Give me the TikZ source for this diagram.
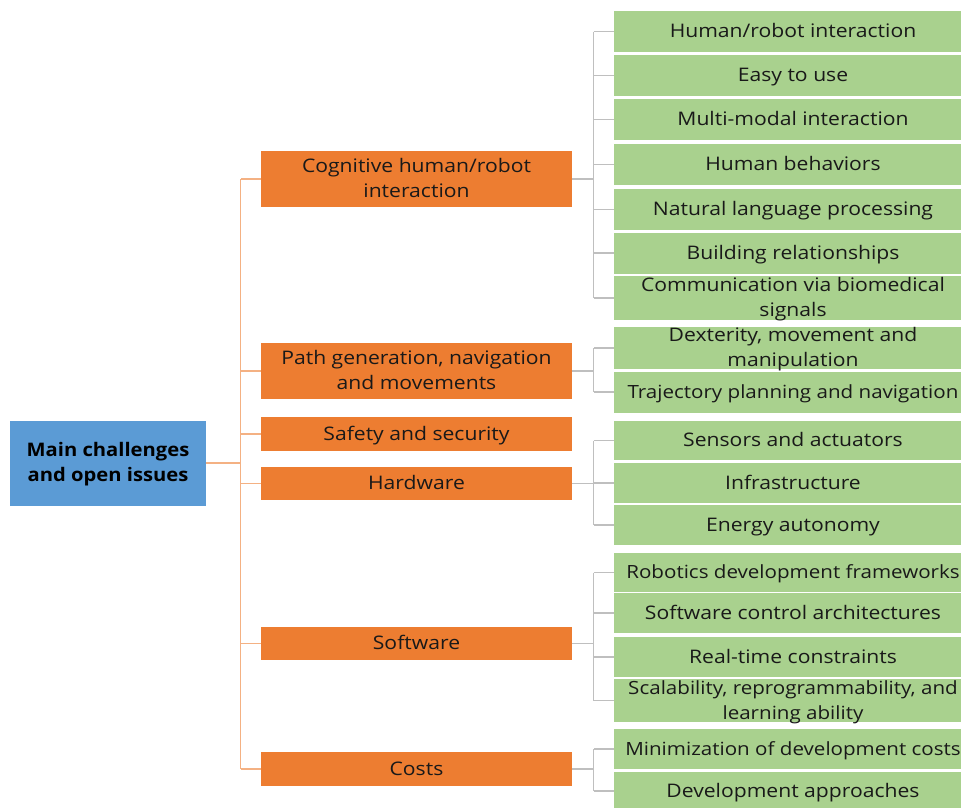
\documentclass[tikz,border=0pt]{standalone}
\usepackage{fontspec}
\setmainfont{Open Sans}[FakeStretch=1.13]
\newfontfamily\rootfont{Open Sans}[FakeStretch=1.08]
\usetikzlibrary{positioning}

\definecolor{rootblue}{HTML}{5B9BD5}
\definecolor{areaorange}{HTML}{ED7D31}
\definecolor{linkorange}{HTML}{F4B183}
\definecolor{issuegreen}{HTML}{A9D18E}
\definecolor{linkgray}{HTML}{BFBFBF}

\begin{document}
\begin{tikzpicture}[x=1pt, y=-1pt,
		font=\fontsize{18.7}{25}\selectfont,
		rootbox/.style={fill=rootblue, text=black, font=\rootfont\fontsize{18.7}{25}\selectfont\bfseries, align=center, inner sep=0pt, text height=39pt, text depth=1.5pt, minimum width=196pt, minimum height=85pt},
		areabox/.style={fill=areaorange, text=black!90, align=center, inner sep=0pt, text height=14pt, text depth=1.5pt, minimum width=311pt},
		issuebox/.style={fill=issuegreen, text=black!90, align=center, inner sep=0pt, text height=14pt, text depth=1.5pt, minimum width=358pt, minimum height=41pt},
		twoline/.style={text height=39pt},
		longtext/.style={font=\fontsize{18.2}{25}\selectfont},
		olink/.style={draw=linkorange, line width=1.5pt},
		glink/.style={draw=linkgray, line width=1.5pt}]
		\useasboundingbox (0,0) rectangle (961,807);
		
		\node[rootbox] (root) at (108,463) {Main challenges\\and open issues};
		
		% challenge areas
		\node[areabox, twoline, minimum height=56pt] (cog) at (416.5,179) {Cognitive human/robot\\interaction};
		\node[areabox, twoline, minimum height=56pt] (nav) at (416.5,371) {Path generation, navigation\\and movements};
		\node[areabox, minimum height=34pt] (safe) at (416.5,434) {Safety and security};
		\node[areabox, minimum height=33pt] (hw) at (416.5,483.5) {Hardware};
		\node[areabox, minimum height=33pt] (sw) at (416.5,643.5) {Software};
		\node[areabox, minimum height=34pt] (cost) at (416.5,769) {Costs};
		
		% open issues
		\node[issuebox] (hri) at (793,31.5) {Human/robot interaction};
		\node[issuebox] (easy) at (793,75.5) {Easy to use};
		\node[issuebox] (mmi) at (793,119.5) {Multi-modal interaction};
		\node[issuebox] (behav) at (793,164.5) {Human behaviors};
		\node[issuebox] (nlp) at (793,209.5) {Natural language processing};
		\node[issuebox] (relat) at (793,253) {Building relationships};
		\node[issuebox, twoline, minimum height=44pt] (bio) at (793,298) {Communication via biomedical\\signals};
		\node[issuebox, twoline, minimum height=42pt] (dext) at (793,348) {Dexterity, movement and\\manipulation};
		\node[issuebox, longtext] (traj) at (793,392) {Trajectory planning and navigation};
		\node[issuebox, minimum height=39pt] (sens) at (793,440.5) {Sensors and actuators};
		\node[issuebox, minimum height=40pt] (infra) at (793,483) {Infrastructure};
		\node[issuebox, minimum height=40pt] (energy) at (793,525) {Energy autonomy};
		\node[issuebox, longtext, minimum height=39pt] (frame) at (793,572.5) {Robotics development frameworks};
		\node[issuebox, minimum height=40pt] (arch) at (793,613) {Software control architectures};
		\node[issuebox, minimum height=40pt] (rtime) at (793,657) {Real-time constraints};
		\node[issuebox, twoline, longtext, minimum height=43pt] (scal) at (793,700.5) {Scalability, reprogrammability, and\\learning ability};
		\node[issuebox, longtext, minimum height=40pt] (mincost) at (793,749) {Minimization of development costs};
		\node[issuebox, minimum height=38pt] (approach) at (793,791) {Development approaches};
		
		\coordinate (otrunk) at (240.5,0);
		\coordinate (gtrunk) at (593.5,0);
		
		% root to areas
		\draw[olink] (root.east) -- (root.east -| otrunk);
		\draw[olink] (cog.west -| otrunk) -- (cost.west -| otrunk);
		\draw[olink] (cog.west) -- (cog.west -| otrunk);
		\draw[olink] (nav.west) -- (nav.west -| otrunk);
		\draw[olink] (safe.west) -- (safe.west -| otrunk);
		\draw[olink] (hw.west) -- (hw.west -| otrunk);
		\draw[olink] (sw.west) -- (sw.west -| otrunk);
		\draw[olink] (cost.west) -- (cost.west -| otrunk);
		
		% areas to issues
		\draw[glink] (cog.east) -- (cog.east -| gtrunk);
		\draw[glink] (hri.west -| gtrunk) -- (bio.west -| gtrunk);
		\draw[glink] (hri.west) -- (hri.west -| gtrunk);
		\draw[glink] (easy.west) -- (easy.west -| gtrunk);
		\draw[glink] (mmi.west) -- (mmi.west -| gtrunk);
		\draw[glink] (behav.west) -- (behav.west -| gtrunk);
		\draw[glink] (nlp.west) -- (nlp.west -| gtrunk);
		\draw[glink] (relat.west) -- (relat.west -| gtrunk);
		\draw[glink] (bio.west) -- (bio.west -| gtrunk);
		
		\draw[glink] (nav.east) -- (nav.east -| gtrunk);
		\draw[glink] (dext.west -| gtrunk) -- (traj.west -| gtrunk);
		\draw[glink] (dext.west) -- (dext.west -| gtrunk);
		\draw[glink] (traj.west) -- (traj.west -| gtrunk);
		
		\draw[glink] (hw.east) -- (hw.east -| gtrunk);
		\draw[glink] (sens.west -| gtrunk) -- (energy.west -| gtrunk);
		\draw[glink] (sens.west) -- (sens.west -| gtrunk);
		\draw[glink] (infra.west) -- (infra.west -| gtrunk);
		\draw[glink] (energy.west) -- (energy.west -| gtrunk);
		
		\draw[glink] (sw.east) -- (sw.east -| gtrunk);
		\draw[glink] (frame.west -| gtrunk) -- (scal.west -| gtrunk);
		\draw[glink] (frame.west) -- (frame.west -| gtrunk);
		\draw[glink] (arch.west) -- (arch.west -| gtrunk);
		\draw[glink] (rtime.west) -- (rtime.west -| gtrunk);
		\draw[glink] (scal.west) -- (scal.west -| gtrunk);
		
		\draw[glink] (cost.east) -- (cost.east -| gtrunk);
		\draw[glink] (mincost.west -| gtrunk) -- (approach.west -| gtrunk);
		\draw[glink] (mincost.west) -- (mincost.west -| gtrunk);
		\draw[glink] (approach.west) -- (approach.west -| gtrunk);
	\end{tikzpicture}
\end{document}
